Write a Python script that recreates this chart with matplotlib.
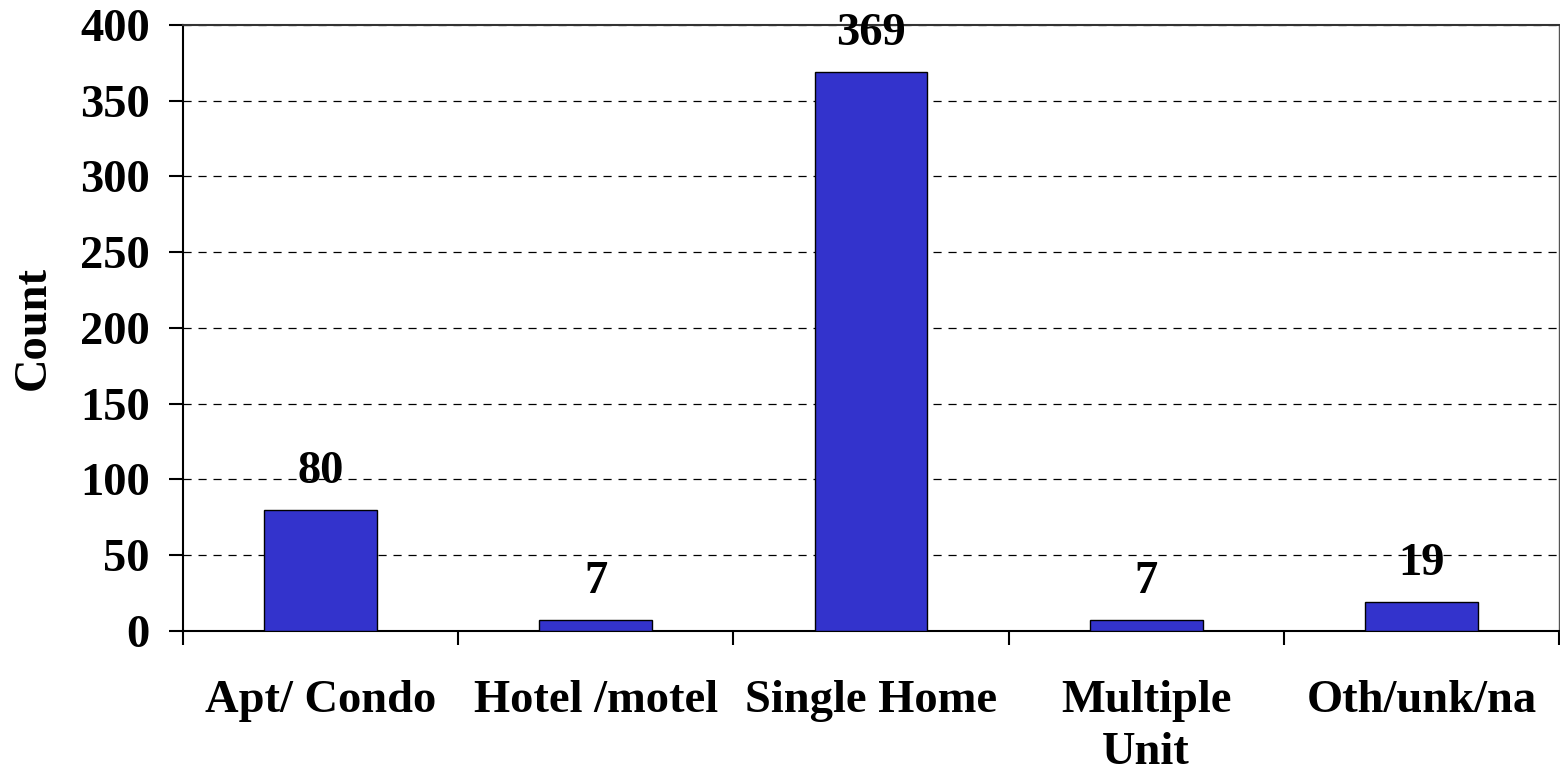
import numpy as np
import matplotlib
matplotlib.use('Agg')
import matplotlib.pyplot as plt

# datos
categories = ['Apt/ Condo', 'Hotel /motel', 'Single Home', 'Multiple\nUnit', 'Oth/unk/na']
counts = [80, 7, 369, 7, 19]
yticks = [0, 50, 100, 150, 200, 250, 300, 350, 400]

plt.rcParams['font.family'] = ['Liberation Serif', 'DejaVu Serif']
plt.rcParams['font.weight'] = 'bold'
fs = 33.5

fig = plt.figure(figsize=(15.6, 7.73), dpi=100)
ax = fig.add_axes([0.1173, 0.1837, 0.8821, 0.784])

x = np.arange(len(categories))
bars = ax.bar(x, counts, width=0.41, color='#3333CC', edgecolor='black', linewidth=1.0, zorder=3)

for xi, v in zip(x, counts):
    ax.annotate(str(v), (xi, v), xytext=(0, 19.5), textcoords='offset points',
                ha='center', va='baseline', fontsize=fs, fontweight='bold', zorder=4)

ax.set_xlim(-0.5, len(categories) - 0.5)
ax.set_ylim(0, 400)
ax.set_yticks(yticks)
ax.set_yticklabels([str(t) for t in yticks], fontsize=fs, fontweight='bold')

# marcas en los limites de cada categoria, etiquetas en el centro
ax.set_xticks(np.arange(len(categories) + 1) - 0.5)
ax.set_xticklabels([''] * (len(categories) + 1))
ax.set_xticks(x, minor=True)
ax.set_xticklabels(categories, minor=True, fontsize=fs, fontweight='bold', linespacing=1.32)
ax.tick_params(axis='x', which='major', direction='out', length=10, width=1.5, color='black')
ax.tick_params(axis='x', which='minor', length=0, pad=35)
ax.tick_params(axis='y', direction='out', length=10, width=1.5, pad=14)

ax.yaxis.grid(True, color='black', linestyle=(0, (6.5, 5.5)), linewidth=0.9, zorder=1)
ax.set_axisbelow(True)

ax.set_ylabel('Count', fontsize=fs, fontweight='bold', labelpad=18)

ax.spines['left'].set_linewidth(1.5)
ax.spines['bottom'].set_linewidth(1.5)
ax.spines['top'].set_linewidth(1.5)
ax.spines['top'].set_color('#333333')
ax.spines['right'].set_linewidth(1.0)
ax.spines['right'].set_color('#555555')

fig.savefig('out.png', dpi=100)
